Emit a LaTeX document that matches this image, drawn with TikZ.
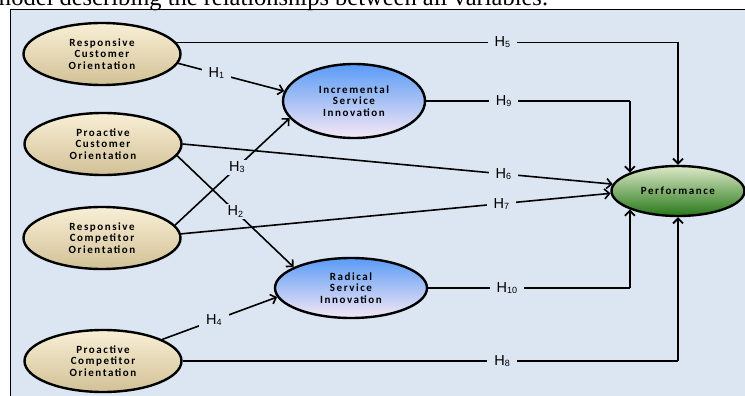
\documentclass[tikz,border=0pt]{standalone}
\usepackage{fontspec}
\setmainfont{Liberation Serif}
\newfontfamily\nodefont[LetterSpace=14]{Carlito}
\newfontfamily\hfont{Liberation Sans}
\usetikzlibrary{shapes.geometric,arrows.meta}
\definecolor{panelbg}{HTML}{DCE6F2}
\definecolor{creamtop}{HTML}{F8EFD6}
\definecolor{creammid}{HTML}{F0E4C2}
\definecolor{creambot}{HTML}{D2C196}
\definecolor{bluetop}{HTML}{5A9BF6}
\definecolor{bluemid}{HTML}{98BDF0}
\definecolor{bluebot}{HTML}{F6E8F4}
\definecolor{greentop}{HTML}{DCE9C8}
\definecolor{greenmid}{HTML}{8CB060}
\definecolor{greenbot}{HTML}{277818}
\newcommand\hyp[1]{H\raisebox{-1.2pt}{\fontsize{9}{9}\selectfont #1}}
\tikzset{
  latent/.style={ellipse, draw=black, line width=2.4pt, inner sep=0pt,
    align=center, font=\nodefont\bfseries\fontsize{11}{11.5}\selectfont},
  indep/.style={latent, top color=creamtop, middle color=creammid, bottom color=creambot,
    minimum width=157pt, minimum height=62pt},
  innov/.style={latent, top color=bluetop, middle color=bluemid, bottom color=bluebot},
  perfstyle/.style={latent, top color=greentop, middle color=greenmid, bottom color=greenbot,
    minimum width=133pt, minimum height=50pt},
  conn/.style={line width=1.4pt},
  arr/.style={line width=1.6pt, -{Straight Barb[length=5pt,width=10pt,line width=1.6pt]}},
  varr/.style={line width=2.4pt, -{Straight Barb[length=5pt,width=10pt,line width=1.8pt]}},
  lab/.style={fill=panelbg, inner xsep=7pt, inner ysep=2pt, font=\hfont\fontsize{14.5}{14.5}\selectfont}
}
\begin{document}
\begin{tikzpicture}[x=1pt,y=-1pt]
\useasboundingbox (0,0) rectangle (745,396);
\fill[white] (0,0) rectangle (745,396);
\draw[fill=panelbg, line width=1pt] (10,10) rectangle (760,410);
\node[anchor=base west, inner sep=0pt, font=\fontsize{24.5}{25}\selectfont] (title) at (-8,6)
  {model describing the relationships between all variables.};

\node[indep] (rco) at (102,54) {Responsive\\Customer\\Orientation};
\node[indep] (pco) at (103,144) {Proactive\\Customer\\Orientation};
\node[indep] (rcmo) at (102,238) {Responsive\\Competitor\\Orientation};
\node[indep] (pcmo) at (103,361) {Proactive\\Competitor\\Orientation};
\node[innov, minimum width=142pt, minimum height=74pt] (isi) at (354,101) {Incremental\\Service\\Innovation};
\node[innov, minimum width=152pt, minimum height=60pt] (rsi) at (351,288) {Radical\\Service\\Innovation};
\node[perfstyle] (perf) at (678,191) {Performance};

% H5
\draw[conn] (rco.9) -- node[lab,pos=0.65]{\hyp{5}} (rco.9 -| perf.north);
\draw[varr] (rco.9 -| perf.north) -- (perf.north);
% H9
\draw[conn] (isi.east) -- node[lab,pos=0.38]{\hyp{9}} (isi.east -| perf.159);
\draw[varr] (isi.east -| perf.159) -- (perf.159);
% H10
\draw[conn] (rsi.east) -- node[lab,pos=0.39]{\hyp{10}} (rsi.east -| perf.201);
\draw[varr] (rsi.east -| perf.201) -- (perf.201);
% H8
\draw[conn] (pcmo.east) -- node[lab,pos=0.645]{\hyp{8}} (pcmo.east -| perf.south);
\draw[varr] (pcmo.east -| perf.south) -- (perf.south);
% H6, H7
\draw[arr] (pco.east) -- node[lab,pos=0.746]{\hyp{6}} (perf.174);
\draw[arr] (rcmo.3) -- node[lab,pos=0.746]{\hyp{7}} (perf.182);
% H1
\draw[arr] (rco.-7) -- node[lab,pos=0.36]{\hyp{1}} (isi.172);
% H2
\draw[arr] (pco.-9) -- node[lab,pos=0.5]{\hyp{2}} (rsi.160);
% H3
\draw[arr] (rcmo.10) -- node[lab,pos=0.54]{\hyp{3}} (isi.195);
% H4
\draw[arr] (pcmo.20) -- node[lab,pos=0.45]{\hyp{4}} (rsi.187);
\end{tikzpicture}
\end{document}
